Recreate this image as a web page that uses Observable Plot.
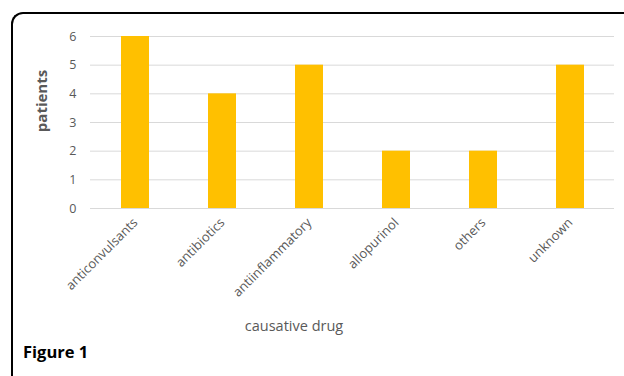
<!DOCTYPE html>
<html>
<head>
<meta charset="utf-8">
<script src="https://cdn.jsdelivr.net/npm/d3@7"></script>
<script src="https://cdn.jsdelivr.net/npm/@observablehq/plot@0.6"></script>
<style>
  html, body { margin: 0; padding: 0; background: #fff; overflow: hidden; }
  #wrap { position: relative; width: 624px; height: 376px; overflow: hidden; font-family: "Open Sans", sans-serif; }
  #frame { position: absolute; left: 11px; top: 12px; width: 700px; height: 400px; border-left: 2px solid #000; border-top: 2px solid #000; border-right: none; border-bottom: none; border-top-left-radius: 12px; }
  #chart { position: absolute; left: 0; top: 0; }
  .lbl { position: absolute; color: #595959; font-weight: 700; font-size: 15px; white-space: nowrap; }
  #ylab { left: 41px; top: 101px; transform: translate(-50%, -50%) rotate(-90deg); }
  #xlab { left: 294px; top: 325px; transform: translate(-50%, -50%); font-weight: 400; font-size: 14.5px; }
  #fig { position: absolute; left: 23px; top: 340px; font-weight: 700; font-size: 16.5px; color: #000; }
</style>
</head>
<body>
<div id="wrap">
  <div id="frame"></div>
  <div id="chart"></div>
  <div class="lbl" id="ylab">patients</div>
  <div class="lbl" id="xlab">causative drug</div>
  <div id="fig">Figure 1</div>
</div>
<script>
const categories = ["anticonvulsants", "antibiotics", "antiinflammatory", "allopurinol", "others", "unknown"];
const patients = [6, 4, 5, 2, 2, 5];
const yTicks = [0, 1, 2, 3, 4, 5, 6];

const data = categories.map((c, i) => ({drug: c, n: patients[i]}));

const chart = Plot.plot({
  width: 624,
  height: 376,
  marginLeft: 90,
  marginRight: 10,
  marginTop: 36,
  marginBottom: 168,
  style: {fontFamily: "'Open Sans', sans-serif", fontSize: "12.5px", color: "#595959", background: "transparent"},
  x: {domain: categories, paddingInner: 0.68, paddingOuter: 0.34, label: null},
  y: {domain: [0, 6], label: null},
  marks: [
    Plot.ruleY(yTicks, {stroke: "#d9d9d9", strokeWidth: 1}),
    Plot.barY(data, {x: "drug", y: "n", fill: "#ffc000"}),
    Plot.axisY({ticks: yTicks, tickFormat: d => String(d), tickSize: 0, tickPadding: 14, label: null, fill: "#595959"}),
    Plot.axisX({tickSize: 0, tickRotate: -45, tickPadding: 12, label: null, fill: "#595959", fontSize: 13})
  ]
});
document.getElementById("chart").appendChild(chart);
</script>
</body>
</html>
